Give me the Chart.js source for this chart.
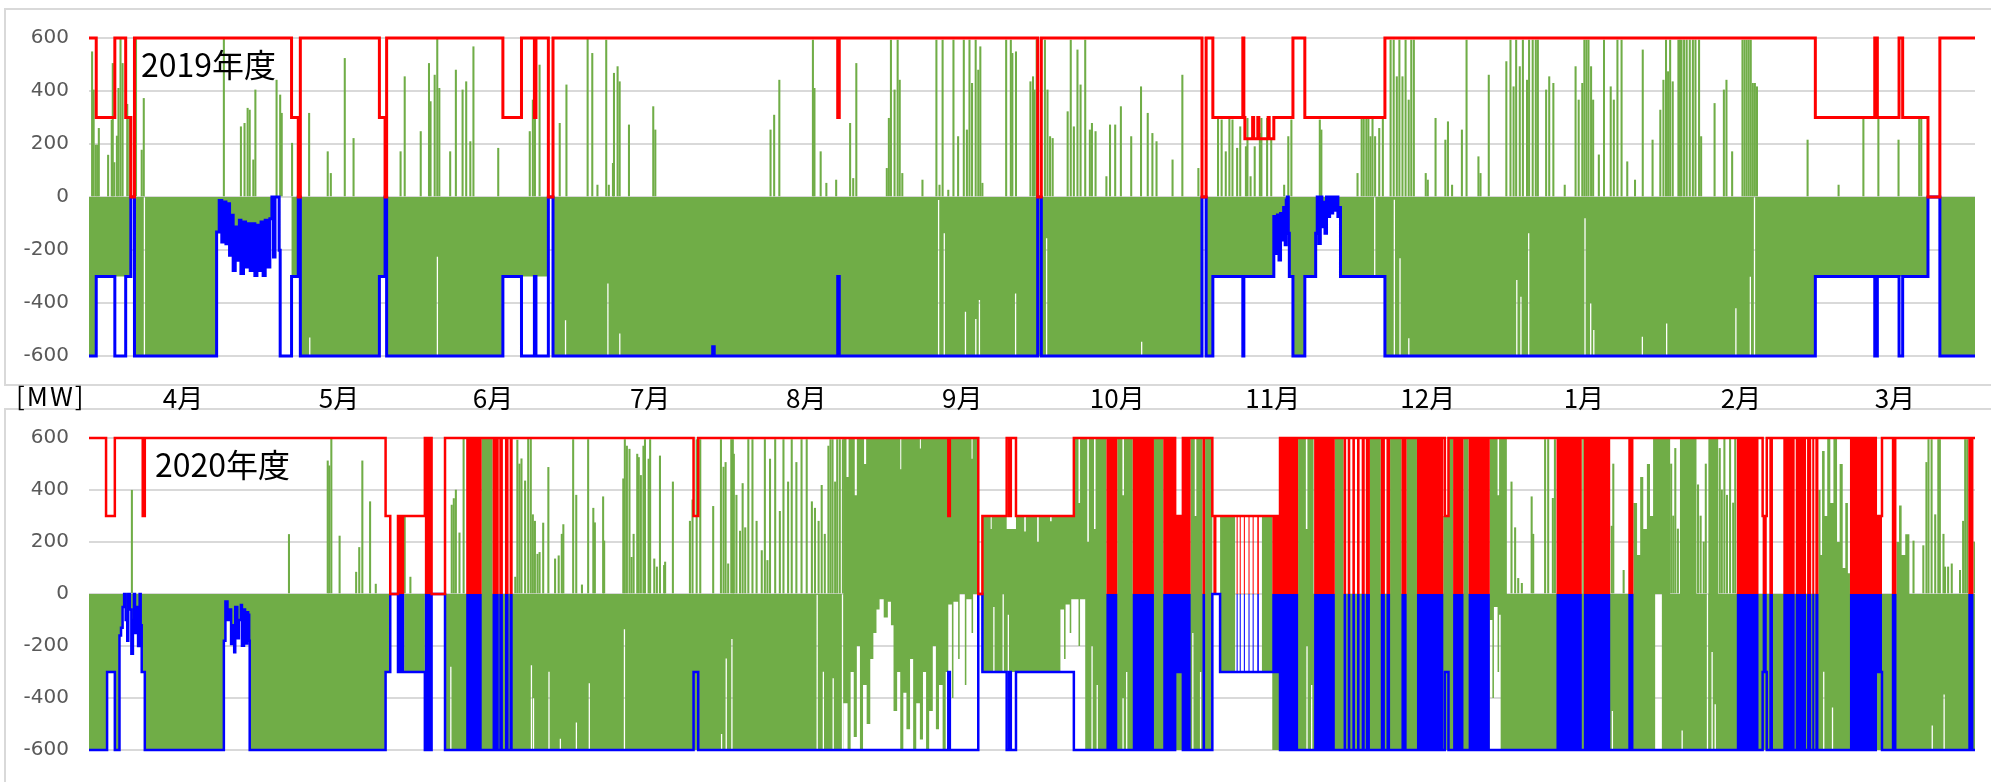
<!DOCTYPE html>
<html><head><meta charset="utf-8">
<script src="https://cdn.jsdelivr.net/npm/chart.js@4.4.1/dist/chart.umd.min.js"></script>
<style>
html,body{margin:0;padding:0;background:#fff;}
body{width:1991px;height:782px;position:relative;overflow:hidden;font-family:"Noto Sans CJK JP","Noto Sans",sans-serif;}
.frame{position:absolute;border:2px solid #d9d9d9;box-sizing:border-box;}
.lbl{position:absolute;color:#000;white-space:nowrap;line-height:1;}
canvas{position:absolute;left:0;}
</style></head><body>
<div class="frame" style="left:4px;top:8px;width:1990px;height:378px;"></div>
<div class="frame" style="left:4px;top:408px;width:1990px;height:390px;"></div>
<canvas id="c1" width="1991" height="412" style="top:0"></canvas>
<canvas id="c2" width="1991" height="382" style="top:400px"></canvas>
<div class="lbl" style="left:141px;top:47px;font-size:32px;">2019年度</div>
<div class="lbl" style="left:155px;top:447px;font-size:32px;">2020年度</div>
<div class="lbl" style="left:16px;top:382px;font-size:26px;letter-spacing:2px;">[MW]</div>
<script>
// ---------- axis labels ----------
const monthLabels = ['4月','5月','6月','7月','8月','9月','10月','11月','12月','1月','2月','3月'];
const monthTickDays = [18.2,48.4,78.2,108.6,138.8,169.0,199.0,229.1,259.1,289.3,319.7,349.5];
const yTicks = [-600,-400,-200,0,200,400,600];

// ---------- FY2019 ----------
const swingApr2019 = [[24.7,-132],[25.2,-13],[25.7,-170],[26.1,-19],[26.5,-176],[26.8,-25],[27.2,-220],[27.6,-69],[27.9,-277],[28.3,-113],[28.6,-239],[29.1,-88],[29.4,-289],[29.9,-94],[30.3,-264],[30.7,-101],[31.2,-277],[31.6,-101],[32.1,-296],[32.5,-107],[32.9,-277],[33.3,-94],[33.7,-296],[34.1,-88],[34.6,-264],[35.0,-82],[35.4,0],[35.7,-226],[36.0,0],[36.4,0],[36.8,-201]];
const swingNov2019a = [[229.3,-74],[229.6,-213],[230.0,-68],[230.3,-238],[230.6,-62],[230.9,-162],[231.2,-40],[231.5,-180],[231.7,-11],[231.9,0],[232.1,-137]];
const swingNov2019b = [[237.4,-137],[237.7,0],[238.0,-175],[238.3,0],[238.6,-112],[238.9,-20],[239.2,-137],[239.5,0],[239.8,-74],[240.1,0],[240.4,-60],[240.7,0],[241.0,-50],[241.3,0],[241.7,-74],[242.0,-40]];

const upLimit2019 = [[0,600],[1.4,300],[5.0,600],[7.1,300],[8.1,0],[8.8,600],[39.2,300],[40.5,0],[40.9,600],[56.2,300],[57.3,0],[57.6,600],[80.1,300],[83.7,600],[86.2,300],[86.5,600],[88.9,0],[89.8,600],[144.9,300],[145.2,600],[183.6,0],[184.3,600],[215.4,0],[216.2,600],[217.5,300],[223.3,600],[223.5,300],[223.7,220],[225.2,300],[225.4,220],[226.2,300],[226.4,220],[228.2,300],[228.4,220],[229.3,300],[233.0,600],[235.3,300],[250.8,600],[334.1,300],[345.6,600],[346.1,300],[350.3,600],[351.0,300],[355.9,0],[358.2,600],[365,600]];

const lowLimit2019 = [[0,-600],[1.4,-300],[5.0,-600],[7.1,-300],[8.1,0],[8.8,-600],...swingApr2019,[37.0,-600],[39.2,-300],[40.5,0],[40.9,-600],[56.2,-300],[57.3,0],[57.6,-600],[80.1,-300],[83.7,-600],[86.2,-300],[86.5,-600],[88.9,0],[89.8,-600],[120.7,-565],[121.0,-600],[144.9,-300],[145.2,-600],[183.6,0],[184.3,-600],[215.4,0],[216.2,-600],[217.5,-300],[223.3,-600],[223.5,-300],...swingNov2019a,[232.3,-300],[233.0,-600],[235.3,-300],...swingNov2019b,[242.2,-300],[250.8,-600],[334.1,-300],[345.6,-600],[346.1,-300],[350.3,-600],[351.0,-300],[355.9,0],[358.2,-600],[365,-600]];

const flowNeg2019 = [[0,-600],[1.4,-300],[8.1,0],[8.8,-600],...swingApr2019,[37.0,0],[39.2,-300],[40.5,0],[40.9,-600],[56.2,-300],[57.3,0],[57.6,-600],[80.1,-300],[88.9,0],[89.8,-600],[215.4,0],[216.2,-600],[217.5,-300],...swingNov2019a,[232.3,-300],[233.0,-600],[235.3,-300],...swingNov2019b,[242.2,-300],[250.8,-600],[334.1,-300],[355.9,0],[358.2,-600],[365,-600]];

const flowGaps2019 = [[10.6,0],[42.6,-530],[67.3,-225],[92.1,-465],[100.3,-326],[102.6,-515],[164.3,-11],[165.4,-137],[169.5,-433],[171.5,-460],[172.2,-389],[179.2,-364],[185.2,-156],[203.6,-546],[248.7,0],[252.5,-10],[253.6,-231],[255.3,-533],[276.2,-313],[277.0,-376],[278.5,-137],[289.4,-80],[290.5,-401],[291.1,-502],[300.5,-527],[305.2,-477],[318.6,-420],[321.4,-301],[322.2,0]];

const flowPos2019 = [[0,0],[365,0]];

const spikes2019 = [[0.6,548],[0.9,404],[1.3,196],[1.6,196],[1.9,259],[3.7,158],[4.4,290],[4.6,504],[4.9,130],[5.4,230],[5.7,410],[6.1,600],[6.5,504],[7.4,350],[7.8,300],[9.1,600],[10.2,177],[10.6,372],
[26.1,600],[29.4,265],[30.1,278],[30.7,335],[31.1,328],[31.8,140],[32.2,404],[36.3,441],[37.0,385],[37.3,316],[39.3,203],
[42.6,316],[46.2,171],[46.8,89],[49.5,523],[51.2,221],[60.3,171],[61.1,454],[64.2,247],[65.8,504],[66.1,360],[66.9,460],[67.4,600],[67.8,410],[69.9,171],[71.0,479],[72.3,404],[73.0,435],[73.8,209],[74.4,567],[79.2,184],[85.3,247],[85.9,366],[86.3,600],[87.2,498],[91.1,278],[92.4,423],[96.5,600],[97.4,542],[98.4,45],[100.1,592],[100.6,45],[101.4,127],[101.6,467],[102.3,492],[102.7,435],[104.5,272],[109.2,341],
[109.6,253],[131.9,253],[132.6,309],[133.6,441],[140.1,592],[140.4,410],[141.6,171],[142.7,52],[144.6,64],[147.3,278],[147.9,70],[148.5,504],
[154.4,108],[154.8,297],[155.2,592],[155.9,404],[156.5,592],[156.9,441],[157.4,89],[161.3,64],[164.0,592],[164.6,45],[165.2,592],[166.3,26],[167.3,592],[168.2,228],[169.3,592],[169.9,253],[170.4,592],[170.9,429],[171.6,592],[172.1,479],[172.5,567],[172.9,52],
[177.5,592],[178.4,592],[178.7,542],[179.4,548],[182.2,435],[182.7,454],[183.0,404],[183.4,592],[185.0,592],[185.5,404],[186.0,228],[186.5,221],
[189.4,322],[190.0,592],[190.6,265],[191.3,555],[191.9,423],[192.8,592],[193.7,253],[194.1,278],[194.8,247],
[196.9,77],[197.6,272],[198.6,272],[199.7,341],[201.7,228],[203.6,416],[204.9,316],[205.8,240],[206.6,209],[209.7,140],[211.6,460],[214.7,108],
[218.5,297],[219.2,291],[220.0,171],[220.7,297],[221.3,291],[222.2,184],[222.8,265],[223.9,190],[224.2,297],[224.8,77],[225.6,190],[226.6,240],[226.9,297],[228.0,297],[228.8,215],[231.3,45],[232.1,228],[232.7,291],[238.2,291],[238.5,253],
[245.5,89],[246.3,297],[246.7,297],[247.2,303],[247.6,297],[248.0,228],[248.4,297],[248.9,228],[249.7,259],[250.4,297],
[251.9,592],[252.5,592],[253.1,454],[253.6,592],[254.2,454],[254.8,592],[255.4,366],[255.9,592],[256.4,592],
[258.7,89],[259.1,64],[260.6,297],[262.5,215],[263.0,284],[263.8,45],[265.7,253],[266.6,592],[268.9,152],[269.3,89],[270.9,460],[274.3,511],[275.1,592],[275.7,416],[276.2,592],[276.9,492],[277.5,592],[278.3,441],[278.7,592],[279.4,592],[280.0,592],[280.4,592],[282.0,404],[282.6,454],[283.4,429],[285.6,45],
[287.7,492],[288.3,366],[289.0,429],[289.4,592],[289.8,592],[290.2,592],[290.7,492],[291.1,366],[292.2,159],[293.2,592],[294.5,416],[295.1,366],[295.8,592],[296.6,592],[297.7,133],[299.2,64],[300.7,555],[302.6,215],[304.1,328],[304.7,441],[305.2,592],[305.6,473],[306.0,592],[306.5,435],[307.6,592],[307.9,592],[308.2,592],[308.7,592],[309.2,592],[309.8,592],[310.4,592],[310.9,592],[311.6,592],[312.0,228],[314.6,353],[316.4,404],[316.9,441],[318.0,171],[320.0,592],[320.4,592],[320.8,592],[321.2,592],[321.6,592],[322.0,429],[322.4,429],[322.8,416],
[332.6,215],[338.6,45],[343.4,297],[346.3,297],[350.2,215],[354.2,297],[354.6,297]];

const limitCut2019 = [];

// ---------- FY2020 ----------
const swingApr2020 = [[5.9,-160],[6.2,-130],[6.5,-50],[6.8,0],[7.1,-100],[7.4,-180],[7.6,0],[7.9,-60],[8.2,-230],[8.5,-100],[8.7,0],[8.9,-150],[9.2,-50],[9.5,-200],[9.8,0],[10.0,-120]];
const swingMay2020 = [[26.1,-180],[26.4,-29],[26.8,-100],[27.2,-60],[27.5,-192],[27.8,-120],[28.1,-224],[28.3,-50],[28.7,-170],[29.0,-100],[29.4,-42],[29.6,-199],[30.0,-60],[30.2,-190],[30.6,-70],[30.8,-80],[31.0,-180]];

const upLimit2020 = [[0,600],[3.3,300],[5.0,600],[10.4,300],[10.8,600],[57.4,300],[58.3,0],[59.8,300],[65.0,600],[66.3,0],[68.9,600],[117.0,300],[117.9,600],[166.3,300],[166.6,600],[172.1,0],[172.9,300],[177.6,600],[178.1,300],[178.4,600],[179.4,300],[190.6,600],[210.2,300],[211.7,600],[217.4,300],[230.5,600],[262.4,300],[263.1,600],[323.9,300],[324.7,600],[345.8,300],[347.0,600],[365,600]];

const lowLimit2020 = [[0,-600],[3.5,-300],[5.0,-600],...swingApr2020,[10.2,-300],[10.8,-600],...swingMay2020,[31.1,-600],[57.4,-300],[58.3,0],[59.8,-300],[65.0,-600],[66.3,0],[68.9,-600],[117.0,-300],[117.9,-600],[166.3,-300],[166.6,-600],[172.1,0],[172.9,-300],[177.6,-600],[178.1,-300],[178.4,-600],[179.4,-300],[190.6,-600],[210.2,-300],[211.7,-600],[217.4,0],[218.9,-300],[230.5,-600],[262.4,-300],[263.1,-600],[323.9,-300],[324.7,-600],[345.8,-300],[347.0,-600],[365,-600]];

// periods in which both limits were cut to zero for part of each day
const limitCut2020 = [[59.8,61.0],[65.0,66.3],[73.0,76.0],[78.1,79.3],[79.4,80.1],[80.5,81.2],[81.4,82.0],[196.9,199.0],[202.0,206.1],[207.9,213.2],[215.5,216.0],[217.6,218.2],[222.1,222.3],[222.7,222.9],[223.5,223.7],[224.4,224.6],[225.2,225.4],[226.1,226.4],[229.0,234.0],[237.1,241.1],[242.8,243.3],[243.6,244.1],[244.5,245.0],[245.4,245.9],[246.3,246.9],[247.1,247.9],[250.0,250.8],[251.1,251.8],[254.0,255.0],[257.0,262.1],[264.0,266.0],[267.0,271.1],[284.0,288.9],[289.3,294.4],[297.9,298.9],[318.9,323.1],[323.9,324.7],[325.2,325.9],[327.9,330.1],[330.3,332.3],[332.5,333.3],[333.5,333.9],[334.1,334.7],[340.8,347.0],[348.9,349.8],[363.7,364.7]];

const flowNeg2020 = [[0,-600],[3.5,-300],[5.0,-600],...swingApr2020,[10.2,-300],[10.8,-600],...swingMay2020,[31.1,-600],[57.4,-300],[58.3,0],[61.0,-300],[65.0,0],[68.9,-600],
[146.0,-420],[146.8,-600],[147.4,-300],[148.0,-550],[148.6,-200],[149.2,-600],[149.8,-350],[150.5,-500],[151.2,-250],
[151.8,-150],[152.4,-60],[153.0,-20],[153.8,-90],[154.6,-30],[155.2,-120],
[155.7,-450],[156.4,-300],[157.0,-600],[157.6,-380],[158.2,-520],[158.9,-250],[159.5,-600],[160.1,-420],[160.8,-560],[161.4,-300],[162.0,-600],[162.6,-450],[163.3,-200],[163.9,-520],[164.5,-350],[165.2,-600],[165.8,-300],
[166.3,-40],[167.0,-400],[167.3,-30],[168.2,-250],[168.5,0],[169.5,-350],[169.8,-20],[170.8,-150],[171.1,0],
[172.9,-300],[188.0,-60],[188.7,-250],[189.0,-40],[189.8,-150],[190.1,-20],[191.5,-200],[191.8,-20],[192.8,-600],
[217.4,0],[218.9,-300],[221.8,0],[227.0,-300],[229.0,-600],
[271.1,-100],[271.6,-400],[271.9,-50],[272.6,-300],[272.9,-80],[273.2,-600],
[303.1,0],[304.4,-600],[365,-600]];

const flowGaps2020 = [[69.9,-280],[85.5,-274],[85.9,-400],[88.9,-299],[91.1,-557],[94.2,-494],[96.7,-343],[103.5,-136],[122.3,-538],[123.2,-248],[124.3,-173],[140.8,-3],[142.0,-299],[143.9,-324],[145.7,0],[175.0,-50],[176.8,0],[177.8,-80],[194.0,-200],[195.0,-350],[200.0,-400],[200.7,-300],[213.5,-150],[215.0,-300],[235.6,-200],[236.5,-350],[294.7,-450],[308.2,-525],[313.1,0],[314.0,-223],[314.6,-424],[335.6,-299],[337.3,-437],[356.6,-506],[358.9,-387]];

const flowPos2020 = [[0,0],[76.0,600],[78.1,0],
[146.0,600],[146.6,450],[147.0,600],[148.2,380],[148.6,600],[150.0,500],[150.4,600],
[157.0,480],[157.2,600],[160.8,560],[161.0,600],[166.2,300],[166.6,600],[170.8,520],[171.0,600],[172.1,0],
[172.9,300],[174.5,250],[174.7,300],[177.6,250],[179.4,300],[181.0,240],[181.3,300],[183.5,200],[183.8,300],[186.0,280],[186.3,300],
[190.6,600],[191.5,350],[191.8,600],[193.2,200],[193.5,600],[194.5,250],[194.8,600],[196.9,0],
[199.0,600],[200.0,380],[200.3,600],[202.0,0],[206.1,600],[207.9,0],
[213.2,600],[214.0,300],[214.3,600],[215.5,0],[216.0,600],[217.4,0],[218.9,300],[221.8,0],[227.0,300],[229.0,0],
[234.0,600],[235.5,250],[235.8,600],[237.0,0],[241.1,600],[242.8,0],[247.9,600],[250.0,0],[251.8,600],[254.0,0],[255.0,600],[257.0,0],
[262.1,300],[263.1,600],[264.0,0],[266.0,600],[267.0,0],[271.1,600],[272.6,380],[272.9,600],[274.4,0],
[289.0,600],[289.3,0],
[298.9,350],[299.6,150],[300.2,450],[300.8,250],[301.5,500],[302.1,300],[302.7,600],[306.0,0],
[307.9,600],[311.1,0],[313.4,600],[315.3,0],
[334.7,400],[335.1,150],[335.4,550],[335.9,300],[336.4,600],[337.0,350],[337.6,600],[338.3,200],[338.8,500],[339.4,100],[339.9,350],[340.4,80],[340.8,0],
[349.8,200],[350.3,340],[350.8,150],[351.5,230],[352.3,0],[365,0]];

const spikes2020 = [[8.3,399],[38.7,229],[46.2,512],[46.5,493],[46.9,600],[48.5,223],[51.7,84],[52.3,179],[52.9,512],[54.4,355],[55.5,38],[61.1,298],[62.2,65],[70.2,342],[70.6,367],[71.0,400],[71.7,235],[72.5,600],[82.5,65],[82.9,592],[83.3,500],[83.7,520],[84.4,435],[85.0,600],[85.5,600],[85.9,305],[86.3,280],[86.8,153],[87.2,160],[87.9,273],[88.9,487],[90.2,135],[90.9,147],
[91.5,230],[91.8,267],[93.7,594],[94.3,380],[95.4,35],[96.6,594],[97.6,330],[97.9,274],[99.5,374],[99.7,204],[103.4,443],[103.7,594],[104.1,569],[104.6,557],[105.0,141],[105.4,230],[106.1,538],[106.4,525],[106.8,456],[107.3,569],[107.6,594],[108.3,519],[108.6,594],[109.4,135],[109.9,104],[110.5,531],[111.3,110],[111.5,123],[113.0,431],[116.3,280],[116.8,362],
[117.6,594],[118.3,594],[120.8,337],[122.3,594],[122.8,488],[123.2,506],[123.7,116],[124.3,594],[124.6,594],[124.8,538],[125.3,380],[126.0,242],[126.5,425],[127.0,255],[127.6,594],[128.4,594],[129.2,280],[130.2,167],[130.8,594],[131.3,129],[131.8,519],[132.8,594],[133.7,318],[134.4,594],[135.3,431],[136.0,594],[136.9,506],[137.9,594],[138.9,594],[139.9,355],[140.5,330],[141.2,280],[141.8,418],[142.4,230],[143.1,569],[143.5,594],[143.9,594],[144.4,431],[144.8,594],[145.3,594],[145.9,594],
[275.3,431],[276.0,255],[276.6,60],[277.3,41],[279.2,374],[279.5,230],[281.8,594],[282.4,594],[283.3,368],[283.7,594],
[294.7,261],[295.0,500],[297.0,91],
[306.2,500],[306.6,300],[307.0,560],[307.5,250],[311.4,420],[311.9,300],[312.5,200],[312.9,500],[315.6,560],[316.0,400],[316.5,600],[317.0,380],[317.6,600],[318.2,350],[318.6,600],
[353.1,204],[355.0,186],[355.6,506],[356.0,594],[356.6,594],[357.3,305],[357.9,594],[358.2,594],[358.9,230],[359.2,104],[359.8,104],[360.5,116],[362.1,91],[362.7,280],[363.1,594],[363.5,594],[364.9,200]];

// ---------- helpers ----------
function stepAt(arr, x) { let v = arr[0][1]; for (const [px, py] of arr) { if (px <= x) v = py; else break; } return v; }
function pts(arr) { return arr.map(([x, y]) => ({ x, y })); }
function withGaps(base, gaps, w) {
  const out = base.map(([x, y]) => [x, y]);
  for (const [d, v] of gaps) { const back = stepAt(base, d + w); out.push([d, v]); out.push([d + w, back]); }
  out.sort((a, b) => a[0] - b[0]);
  return pts(out);
}
function blockPts(blocks, limit) {
  const out = [{ x: 0, y: 0 }];
  for (const [s, e] of blocks) {
    out.push({ x: s, y: stepAt(limit, s) });
    for (const [bx, by] of limit) if (bx > s && bx < e) out.push({ x: bx, y: by });
    out.push({ x: e, y: 0 });
  }
  out.push({ x: 365, y: 0 });
  return out;
}

const GREEN = '#70ad47', RED = '#ff0000', BLUE = '#0000ff';
function fillSet(data, color, order) {
  return { type: 'line', data, stepped: true, fill: 'origin', borderWidth: 0, borderColor: 'rgba(0,0,0,0)', backgroundColor: color, pointRadius: 0, order };
}
function makePanel(id, d, showX, lw) {
  const datasets = [
    { type: 'line', data: pts(d.up), stepped: true, fill: false, borderColor: RED, borderWidth: lw, pointRadius: 0, order: 0, clip: 5 },
    { type: 'line', data: pts(d.low), stepped: true, fill: false, borderColor: BLUE, borderWidth: lw, pointRadius: 0, order: 0, clip: 5 },
    fillSet(blockPts(d.cut, d.up), RED, 1),
    fillSet(blockPts(d.cut, d.low), BLUE, 1),
    fillSet(withGaps(d.neg, d.gaps, 0.25), GREEN, 3),
    fillSet(pts(d.pos), GREEN, 3),
    { type: 'bar', data: pts(d.spikes), backgroundColor: GREEN, barThickness: 1.4, grouped: false, order: 2 }
  ];
  return new Chart(document.getElementById(id), {
    type: 'line',
    data: { datasets },
    options: {
      responsive: false, animation: false, devicePixelRatio: 1, events: [],
      layout: { padding: { top: 38, right: 16, left: 0, bottom: showX ? 0 : 25 } },
      plugins: { legend: { display: false }, tooltip: { enabled: false } },
      scales: {
        x: {
          type: 'linear', min: 0, max: 365, offset: false, display: showX,
          afterBuildTicks: a => { a.ticks = monthTickDays.map(v => ({ value: v })); },
          afterFit: s => { s.height = showX ? 56 : 0; s.paddingLeft = 0; s.paddingRight = 0; },
          ticks: { autoSkip: false, maxRotation: 0, padding: 27, color: '#000', font: { family: "'Noto Sans CJK JP'", size: 26 }, callback: (v, i) => monthLabels[i] },
          grid: { display: false, drawTicks: false, offset: false }, border: { display: false }
        },
        y: {
          type: 'linear', min: -600, max: 600,
          afterBuildTicks: a => { a.ticks = yTicks.map(v => ({ value: v })); },
          afterFit: s => { s.width = 89; },
          ticks: { padding: 20, color: '#595959', font: { family: "'DejaVu Sans'", size: 20 }, callback: v => String(v) },
          grid: { color: '#d9d9d9', lineWidth: 2, drawTicks: false }, border: { display: false }
        }
      }
    }
  });
}

makePanel('c1', { up: upLimit2019, low: lowLimit2019, cut: limitCut2019, neg: flowNeg2019, gaps: flowGaps2019, pos: flowPos2019, spikes: spikes2019 }, true, 3);
makePanel('c2', { up: upLimit2020, low: lowLimit2020, cut: limitCut2020, neg: flowNeg2020, gaps: flowGaps2020, pos: flowPos2020, spikes: spikes2020 }, false, 2.5);
</script>
</body></html>
